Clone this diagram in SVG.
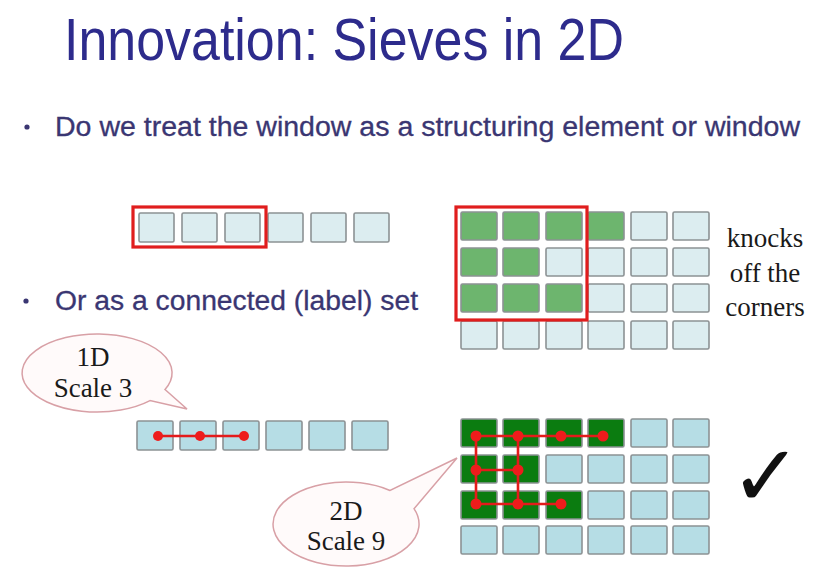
<svg xmlns="http://www.w3.org/2000/svg" width="814" height="569" viewBox="0 0 814 569">
  <style>
    .title { font-family: "Liberation Sans", Arial, sans-serif; font-size: 60px; fill: #2d2b8c; }
    .bullet { font-family: "Liberation Sans", Arial, sans-serif; font-size: 27px; fill: #3a3672; stroke: #3a3672; stroke-width: 0.3; }
    .serif { font-family: "Liberation Serif", "Times New Roman", serif; font-size: 27px; fill: #1a1a1a; text-anchor: middle; }
    .cell { stroke: #8c9294; stroke-width: 1.6; }
    .pale { fill: #dcedf0; }
    .blue { fill: #b6dde5; }
    .lgreen { fill: #6db56e; }
    .dgreen { fill: #0b7c10; }
    .win { fill: none; stroke: #e01d1d; stroke-width: 3.2; }
    .link { stroke: #e41b1b; stroke-width: 2.6; fill: none; }
    .dot { fill: #ee1c1c; }
    .bubble { fill: #fffafa; stroke: #d8a0a6; stroke-width: 1.5; }
  </style>

  <rect width="814" height="569" fill="#ffffff"/>

  <g id="title">
    <text class="title" x="64" y="60" textLength="560" lengthAdjust="spacingAndGlyphs">Innovation: Sieves in 2D</text>
  </g>

  <g id="bullet-1">
    <circle cx="27" cy="127" r="2.6" fill="#3a3672"/>
    <text class="bullet" x="55" y="136" textLength="745" lengthAdjust="spacingAndGlyphs">Do we treat the window as a structuring element or window</text>
  </g>

  <g id="bullet-2">
    <circle cx="26" cy="301" r="2.6" fill="#3a3672"/>
    <text class="bullet" x="55" y="310" textLength="363" lengthAdjust="spacingAndGlyphs">Or as a connected (label) set</text>
  </g>

  <!-- 1D signal with a 3-sample window -->
  <g id="window-1d">
    <rect class="cell pale" x="139" y="213" width="35" height="29" rx="1.5"/>
    <rect class="cell pale" x="182" y="213" width="35" height="29" rx="1.5"/>
    <rect class="cell pale" x="225" y="213" width="35" height="29" rx="1.5"/>
    <rect class="cell pale" x="268" y="213" width="35" height="29" rx="1.5"/>
    <rect class="cell pale" x="311" y="213" width="35" height="29" rx="1.5"/>
    <rect class="cell pale" x="354" y="213" width="35" height="29" rx="1.5"/>
    <rect class="win" x="133" y="207" width="133" height="40"/>
  </g>

  <!-- 2D image with a 3x3 window -->
  <g id="window-2d">
    <rect class="cell lgreen" x="461" y="212" width="36" height="28" rx="1.5"/>
    <rect class="cell lgreen" x="503" y="212" width="36" height="28" rx="1.5"/>
    <rect class="cell lgreen" x="546" y="212" width="36" height="28" rx="1.5"/>
    <rect class="cell lgreen" x="588" y="212" width="36" height="28" rx="1.5"/>
    <rect class="cell pale" x="631" y="212" width="36" height="28" rx="1.5"/>
    <rect class="cell pale" x="673" y="212" width="36" height="28" rx="1.5"/>

    <rect class="cell lgreen" x="461" y="248" width="36" height="28" rx="1.5"/>
    <rect class="cell lgreen" x="503" y="248" width="36" height="28" rx="1.5"/>
    <rect class="cell pale" x="546" y="248" width="36" height="28" rx="1.5"/>
    <rect class="cell pale" x="588" y="248" width="36" height="28" rx="1.5"/>
    <rect class="cell pale" x="631" y="248" width="36" height="28" rx="1.5"/>
    <rect class="cell pale" x="673" y="248" width="36" height="28" rx="1.5"/>

    <rect class="cell lgreen" x="461" y="284" width="36" height="28" rx="1.5"/>
    <rect class="cell lgreen" x="503" y="284" width="36" height="28" rx="1.5"/>
    <rect class="cell lgreen" x="546" y="284" width="36" height="28" rx="1.5"/>
    <rect class="cell pale" x="588" y="284" width="36" height="28" rx="1.5"/>
    <rect class="cell pale" x="631" y="284" width="36" height="28" rx="1.5"/>
    <rect class="cell pale" x="673" y="284" width="36" height="28" rx="1.5"/>

    <rect class="cell pale" x="461" y="321" width="36" height="28" rx="1.5"/>
    <rect class="cell pale" x="503" y="321" width="36" height="28" rx="1.5"/>
    <rect class="cell pale" x="546" y="321" width="36" height="28" rx="1.5"/>
    <rect class="cell pale" x="588" y="321" width="36" height="28" rx="1.5"/>
    <rect class="cell pale" x="631" y="321" width="36" height="28" rx="1.5"/>
    <rect class="cell pale" x="673" y="321" width="36" height="28" rx="1.5"/>

    <rect class="win" x="456" y="207" width="131" height="113"/>
  </g>

  <g id="note-corners">
    <text class="serif" x="765" y="247">knocks</text>
    <text class="serif" x="765" y="282">off the</text>
    <text class="serif" x="765" y="316">corners</text>
  </g>

  <!-- 1D connected set of 3 samples -->
  <g id="label-1d">
    <rect class="cell blue" x="137" y="421" width="36" height="29" rx="1.5"/>
    <rect class="cell blue" x="180" y="421" width="36" height="29" rx="1.5"/>
    <rect class="cell blue" x="223" y="421" width="36" height="29" rx="1.5"/>
    <rect class="cell blue" x="266" y="421" width="36" height="29" rx="1.5"/>
    <rect class="cell blue" x="309" y="421" width="36" height="29" rx="1.5"/>
    <rect class="cell blue" x="352" y="421" width="36" height="29" rx="1.5"/>
  </g>

  <!-- 2D connected set of 9 pixels -->
  <g id="label-2d">
    <rect class="cell dgreen" x="461" y="419" width="36" height="28" rx="1.5"/>
    <rect class="cell dgreen" x="503" y="419" width="36" height="28" rx="1.5"/>
    <rect class="cell dgreen" x="546" y="419" width="36" height="28" rx="1.5"/>
    <rect class="cell dgreen" x="588" y="419" width="36" height="28" rx="1.5"/>
    <rect class="cell blue" x="631" y="419" width="36" height="28" rx="1.5"/>
    <rect class="cell blue" x="673" y="419" width="36" height="28" rx="1.5"/>

    <rect class="cell dgreen" x="461" y="455" width="36" height="28" rx="1.5"/>
    <rect class="cell dgreen" x="503" y="455" width="36" height="28" rx="1.5"/>
    <rect class="cell blue" x="546" y="455" width="36" height="28" rx="1.5"/>
    <rect class="cell blue" x="588" y="455" width="36" height="28" rx="1.5"/>
    <rect class="cell blue" x="631" y="455" width="36" height="28" rx="1.5"/>
    <rect class="cell blue" x="673" y="455" width="36" height="28" rx="1.5"/>

    <rect class="cell dgreen" x="461" y="491" width="36" height="28" rx="1.5"/>
    <rect class="cell dgreen" x="503" y="491" width="36" height="28" rx="1.5"/>
    <rect class="cell dgreen" x="546" y="491" width="36" height="28" rx="1.5"/>
    <rect class="cell blue" x="588" y="491" width="36" height="28" rx="1.5"/>
    <rect class="cell blue" x="631" y="491" width="36" height="28" rx="1.5"/>
    <rect class="cell blue" x="673" y="491" width="36" height="28" rx="1.5"/>

    <rect class="cell blue" x="461" y="526" width="36" height="28" rx="1.5"/>
    <rect class="cell blue" x="503" y="526" width="36" height="28" rx="1.5"/>
    <rect class="cell blue" x="546" y="526" width="36" height="28" rx="1.5"/>
    <rect class="cell blue" x="588" y="526" width="36" height="28" rx="1.5"/>
    <rect class="cell blue" x="631" y="526" width="36" height="28" rx="1.5"/>
    <rect class="cell blue" x="673" y="526" width="36" height="28" rx="1.5"/>
  </g>

  <!-- adjacency links between connected samples -->
  <g id="connectors">
    <line class="link" x1="158" y1="436" x2="244" y2="436"/>
    <line class="link" x1="476" y1="436" x2="603" y2="436"/>
    <line class="link" x1="476" y1="436" x2="476" y2="504"/>
    <line class="link" x1="518" y1="436" x2="518" y2="504"/>
    <line class="link" x1="476" y1="470" x2="518" y2="470"/>
    <line class="link" x1="476" y1="504" x2="561" y2="504"/>
  </g>

  <g id="dots">
    <circle class="dot" cx="158" cy="436" r="5"/>
    <circle class="dot" cx="200" cy="436" r="5"/>
    <circle class="dot" cx="244" cy="436" r="5"/>

    <circle class="dot" cx="476" cy="436" r="5.5"/>
    <circle class="dot" cx="518" cy="436" r="5.5"/>
    <circle class="dot" cx="561" cy="436" r="5.5"/>
    <circle class="dot" cx="603" cy="436" r="5.5"/>
    <circle class="dot" cx="476" cy="470" r="5.5"/>
    <circle class="dot" cx="518" cy="470" r="5.5"/>
    <circle class="dot" cx="476" cy="504" r="5.5"/>
    <circle class="dot" cx="518" cy="504" r="5.5"/>
    <circle class="dot" cx="561" cy="504" r="5.5"/>
  </g>

  <g id="callout-1d">
    <path class="bubble" d="M 165,389.5 A 75 39 0 1 0 150,400.6 L 187,409 Z"/>
    <text class="serif" x="93" y="366">1D</text>
    <text class="serif" x="93" y="397">Scale 3</text>
  </g>

  <g id="callout-2d">
    <path class="bubble" d="M 390,490.5 A 73 42 0 1 0 414,508.7 L 457,458 Z"/>
    <text class="serif" x="346" y="520">2D</text>
    <text class="serif" x="346" y="550">Scale 9</text>
  </g>

  <g id="check">
    <text x="766" y="506" font-family="DejaVu Sans, sans-serif" font-size="86" fill="#111111" text-anchor="middle">✓</text>
  </g>
</svg>
